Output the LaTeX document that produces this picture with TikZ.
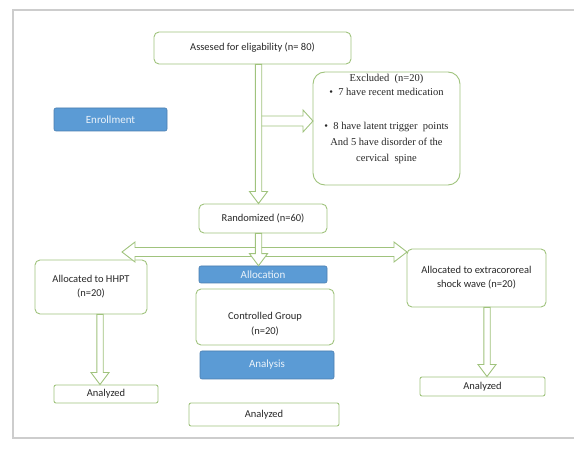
\documentclass[tikz,border=0pt]{standalone}
\usepackage{fontspec}
\setmainfont{Carlito}
\newfontfamily\timesfont{Liberation Serif}
\usetikzlibrary{calc}

\definecolor{boxgreen}{RGB}{160,195,125}
\definecolor{barblue}{RGB}{91,155,213}
\definecolor{barline}{RGB}{75,125,175}
\definecolor{framegray}{RGB}{205,205,205}
\definecolor{textgray}{RGB}{40,40,40}

\tikzset{
    greenbox/.style={draw=boxgreen, line width=0.9pt, rounded corners=5pt, fill=white,
        text=textgray, align=center, inner sep=0pt, font=\fontsize{10.5}{14}\selectfont},
    bluebar/.style={draw=barline, line width=0.6pt, rounded corners=2pt, fill=barblue,
        text=white!88!barblue, inner sep=0pt, font=\fontsize{11}{13}\selectfont},
    boxtext/.style={text=textgray, align=center, inner sep=0pt},
    blockarrow/.style={draw=boxgreen, line width=0.9pt, fill=white},
    downarrow/.style={to path={
        let \p1=(\tikztostart), \p2=(\tikztotarget) in
        (\x1-3.2pt,\y1) -- (\x1-3.2pt,\y2+12pt) -- (\x1-9pt,\y2+12pt) -- (\x1,\y2)
        -- (\x1+9pt,\y2+12pt) -- (\x1+3.2pt,\y2+12pt) -- (\x1+3.2pt,\y1) -- cycle}},
    rightarrow/.style={to path={
        let \p1=(\tikztostart), \p2=(\tikztotarget) in
        (\x1,\y1+5pt) -- (\x2-10pt,\y1+5pt) -- (\x2-10pt,\y1+11pt) -- (\x2,\y1)
        -- (\x2-10pt,\y1-11pt) -- (\x2-10pt,\y1-5pt) -- (\x1,\y1-5pt) -- cycle}},
    bothways/.style={to path={
        let \p1=(\tikztostart), \p2=(\tikztotarget) in
        (\x1,\y1) -- (\x1+13pt,\y1+10pt) -- (\x1+13pt,\y1+4.5pt) -- (\x2-13pt,\y1+4.5pt)
        -- (\x2-13pt,\y1+10pt) -- (\x2,\y1) -- (\x2-13pt,\y1-10pt) -- (\x2-13pt,\y1-4.5pt)
        -- (\x1+13pt,\y1-4.5pt) -- (\x1+13pt,\y1-10pt) -- cycle}}
}

\begin{document}
\begin{tikzpicture}[x=1pt, y=-1pt]
    \useasboundingbox (0,0) rectangle (574,449);
    % frame
    \draw [framegray, line width=1.5pt] (574,10) -- (13,10) -- (13,438) -- (574,438);
    % enrollment
    \node [greenbox, minimum width=197pt, minimum height=32pt] (assess) at (252.5,48) {Assesed for eligability (n= 80)};
    \node [greenbox, rounded corners=12pt, minimum width=147pt, minimum height=113pt] (excl) at (386.5,128.5) {};
    \node [boxtext, anchor=north, font=\timesfont\fontsize{10.5}{16}\selectfont] (excltext) at (386.5,74)
        {Excluded\ \ (n=20)\\[-2pt]
         \textbullet\enspace 7 have recent medication\\[18pt]
         \textbullet\enspace 8 have latent trigger\ \ points\\
         And 5 have disorder of the\\
         cervical\ \ spine};
    \node [bluebar, minimum width=113pt, minimum height=23pt] (enroll) at (110.5,119.5) {Enrollment};
    \node [greenbox, minimum width=128pt, minimum height=29pt] (rand) at (263,218.5) {Randomized (n=60)};
    % allocation
    \node [bluebar, minimum width=128pt, minimum height=17pt] (alloc) at (263,274.5) {Allocation};
    \node [greenbox, minimum width=112pt, minimum height=54pt] (hhpt) at (91,287) {Allocated to HHPT\\(n=20)};
    \node [greenbox, minimum width=138pt, minimum height=56pt] (ctrl) at (265,317) {};
    \node [boxtext, font=\fontsize{10.5}{15}\selectfont] (ctrltext) at (265,324) {Controlled Group\\(n=20)};
    \node [greenbox, minimum width=139pt, minimum height=58pt] (shock) at (476.5,278) {Allocated to extracororeal\\shock wave (n=20)};
    % analysis
    \node [bluebar, minimum width=134pt, minimum height=28pt] (anal) at (267,365) {Analysis};
    \node [greenbox, rounded corners=2pt, minimum width=104pt, minimum height=18pt] (anaL) at (106,394) {Analyzed};
    \node [greenbox, rounded corners=2pt, minimum width=150pt, minimum height=23pt] (anaM) at (264,414.5) {Analyzed};
    \node [greenbox, rounded corners=2pt, minimum width=125pt, minimum height=19pt] (anaR) at (482.5,386.5) {Analyzed};
    % arrow axes
    \coordinate (spine) at (258.5,0);
    \coordinate (exclin) at (313,121);
    \coordinate (splitL) at (122,252);
    \coordinate (splitR) at (407,252);
    \coordinate (hhptx) at (100,0);
    \coordinate (shockx) at (487,0);
    % arrows
    \draw [blockarrow] (spine |- exclin) to [rightarrow] (exclin);
    \draw [blockarrow] (assess.south -| spine) to [downarrow] (rand.north -| spine);
    \draw [blockarrow] (splitL) to [bothways] (splitR);
    \draw [blockarrow] (rand.south -| spine) to [downarrow] (alloc.north -| spine);
    \draw [blockarrow] (hhpt.south -| hhptx) to [downarrow] (anaL.north -| hhptx);
    \draw [blockarrow] (shock.south -| shockx) to [downarrow] (anaR.north -| shockx);
\end{tikzpicture}
\end{document}
